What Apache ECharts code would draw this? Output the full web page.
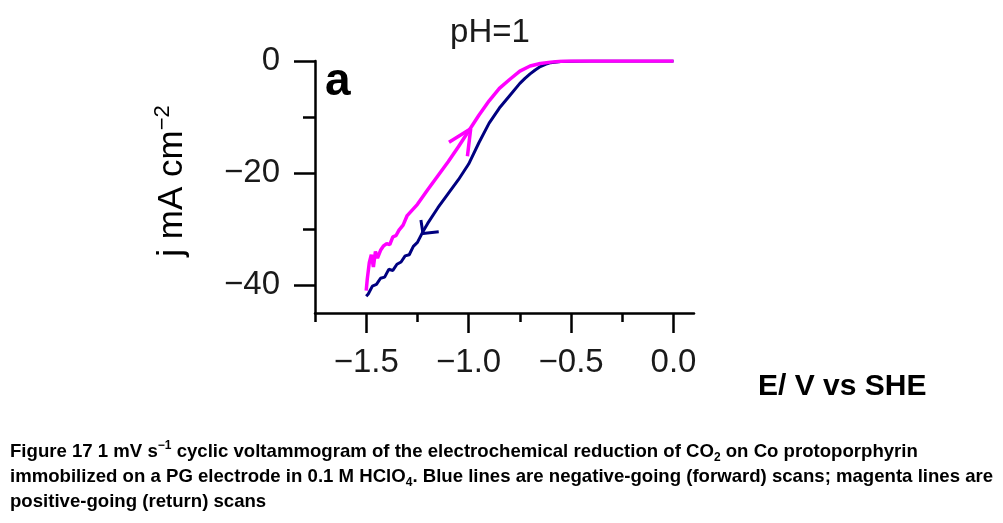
<!DOCTYPE html>
<html>
<head>
<meta charset="utf-8">
<title>Cyclic voltammogram pH=1</title>
<script src="https://cdn.jsdelivr.net/npm/echarts@6/dist/echarts.min.js"></script>
<style>
  html, body { margin: 0; padding: 0; background: #fff; }
  #chart { width: 1003px; height: 523px; }
</style>
</head>
<body>
<div id="chart"></div>
<script>
  // forward scan (blue), E in V vs SHE, j in mA cm-2
  var fwdE = [0.0, -0.1, -0.2, -0.3, -0.4, -0.5, -0.55, -0.6, -0.625, -0.65, -0.675, -0.7, -0.725, -0.75,
    -0.8, -0.85, -0.9, -0.95, -1.0, -1.05, -1.1, -1.15, -1.2, -1.225, -1.25, -1.27, -1.29, -1.31, -1.33,
    -1.35, -1.37, -1.39, -1.41, -1.43, -1.45, -1.47, -1.49, -1.5];
  var fwdJ = [0, 0, 0, 0, 0, -0.05, -0.1, -0.3, -0.6, -1.0, -1.6, -2.3, -3.1, -4.0,
    -6.2, -8.4, -11.1, -14.6, -18.4, -21.2, -23.7, -26.2, -29.0, -30.6, -32.4, -33.1, -34.6, -34.8, -35.9,
    -36.3, -37.4, -37.2, -38.6, -38.8, -39.9, -40.2, -41.6, -42.0];

  // return scan (magenta)
  var retE = [-1.5, -1.495, -1.485, -1.475, -1.465, -1.455, -1.445, -1.43, -1.415, -1.4, -1.385, -1.37,
    -1.355, -1.34, -1.32, -1.3, -1.25, -1.2, -1.15, -1.1, -1.05, -1.0, -0.95, -0.9, -0.85, -0.8, -0.75,
    -0.7, -0.65, -0.6, -0.55, -0.5, -0.3, 0.0];
  var retJ = [-41.0, -39.0, -36.0, -34.6, -36.8, -34.0, -35.2, -33.8, -33.0, -32.6, -32.8, -31.4,
    -31.2, -30.2, -29.3, -27.6, -25.6, -23.0, -20.5, -18.0, -15.3, -12.5, -9.7, -7.1, -4.9, -3.3, -1.8,
    -0.9, -0.45, -0.2, -0.05, 0, 0, 0];

  // scan direction arrows (barb, tip, barb)
  var fwdArrowE = [-1.233, -1.223, -1.146];
  var fwdArrowJ = [-28.4, -30.8, -30.5];
  var retArrowE = [-1.096, -0.99, -1.006];
  var retArrowJ = [-14.5, -12.1, -17.0];

  // ticks
  var xMajorTicks = [-1.5, -1.0, -0.5, 0.0];
  var xMinorTicks = [-1.75, -1.25, -0.75, -0.25];
  var yMajorTicks = [0, -20, -40];
  var yMinorTicks = [-10, -30];

  function pairs(xs, ys) {
    return xs.map(function (x, i) { return [x, ys[i]]; });
  }
  function fmt(v, d) {
    return (v < 0 ? '\u2212' : '') + Math.abs(v).toFixed(d);
  }

  var FONT = 'Liberation Sans, Arial, sans-serif';
  var INK = '#1a1a1a';
  var CAP = 18.6;
  var chart = echarts.init(document.getElementById('chart'));

  chart.setOption({
    animation: false,
    backgroundColor: '#fff',
    grid: { left: 315, top: 61, width: 379, height: 252, containLabel: false },
    xAxis: [
      {
        type: 'value', min: -1.75, max: 0.1, position: 'bottom',
        axisLine: { show: true, onZero: false, lineStyle: { color: '#000', width: 2.5 } },
        axisTick: { show: true, customValues: xMajorTicks, length: 20, lineStyle: { color: '#000', width: 2.5 } },
        axisLabel: {
          customValues: xMajorTicks, margin: 33, fontSize: 33, fontFamily: FONT, color: INK,
          formatter: function (v) { return fmt(v, 1); }
        },
        splitLine: { show: false }
      },
      {
        type: 'value', min: -1.75, max: 0.1, position: 'bottom',
        axisLine: { show: false, onZero: false },
        axisTick: { show: true, customValues: xMinorTicks, length: 9, lineStyle: { color: '#000', width: 2.5 } },
        axisLabel: { show: false },
        splitLine: { show: false }
      }
    ],
    yAxis: [
      {
        type: 'value', min: -45, max: 0, position: 'left',
        axisLine: { show: true, onZero: false, lineStyle: { color: '#000', width: 2.5 } },
        axisTick: { show: true, customValues: yMinorTicks, length: 12, lineStyle: { color: '#000', width: 2.5 } },
        axisLabel: { show: false },
        splitLine: { show: false }
      },
      {
        type: 'value', min: -45, max: 0, position: 'left',
        axisLine: { show: false, onZero: false },
        axisTick: { show: true, customValues: yMajorTicks, length: 21, lineStyle: { color: '#000', width: 2.5 } },
        axisLabel: {
          customValues: yMajorTicks, margin: 35, fontSize: 33, fontFamily: FONT, color: INK,
          formatter: function (v) { return fmt(v, 0); }
        },
        splitLine: { show: false }
      }
    ],
    graphic: [
      {
        type: 'text', position: [490, 33],
        style: { text: 'pH=1', fontSize: 33, fontFamily: FONT, fill: INK,
          textAlign: 'center', textVerticalAlign: 'middle' }
      },
      {
        type: 'text', position: [325, 82],
        style: { text: 'a', fontSize: 46, fontWeight: 'bold', fontFamily: FONT, fill: '#000',
          textAlign: 'left', textVerticalAlign: 'middle' }
      },
      {
        type: 'text', position: [758, 387],
        style: { text: 'E/ V vs SHE', fontSize: 30, fontWeight: 'bold', fontFamily: FONT, fill: '#000',
          textAlign: 'left', textVerticalAlign: 'middle' }
      },
      {
        type: 'text', position: [172, 181], rotation: Math.PI / 2,
        style: {
          text: '{t|j mA cm}{s|\u22122}', textAlign: 'center', textVerticalAlign: 'middle',
          rich: {
            t: { fontSize: 35, fontFamily: FONT, color: INK, lineHeight: 40 },
            s: { fontSize: 22, fontFamily: FONT, color: INK, verticalAlign: 'top', lineHeight: 26 }
          }
        }
      },
      {
        type: 'text', position: [10, 452],
        style: {
          text: '{b|Figure 17 1 mV s}{p|\u22121}{b| cyclic voltammogram of the electrochemical reduction of CO}{d|2}{b| on Co protoporphyrin}',
          textAlign: 'left', textVerticalAlign: 'middle',
          rich: {
            b: { fontSize: CAP, fontWeight: 'bold', fontFamily: FONT, color: '#000', lineHeight: 24 },
            p: { fontSize: 12, fontWeight: 'bold', fontFamily: FONT, color: '#000', verticalAlign: 'top', lineHeight: 14 },
            d: { fontSize: 12, fontWeight: 'bold', fontFamily: FONT, color: '#000', verticalAlign: 'bottom', lineHeight: 14 }
          }
        }
      },
      {
        type: 'text', position: [10, 477],
        style: {
          text: '{b|immobilized on a PG electrode in 0.1 M HClO}{d|4}{b|. Blue lines are negative-going (forward) scans; magenta lines are}',
          textAlign: 'left', textVerticalAlign: 'middle',
          rich: {
            b: { fontSize: CAP, fontWeight: 'bold', fontFamily: FONT, color: '#000', lineHeight: 24 },
            d: { fontSize: 12, fontWeight: 'bold', fontFamily: FONT, color: '#000', verticalAlign: 'bottom', lineHeight: 14 }
          }
        }
      },
      {
        type: 'text', position: [10, 502],
        style: { text: 'positive-going (return) scans', fontSize: CAP, fontWeight: 'bold', fontFamily: FONT,
          fill: '#000', textAlign: 'left', textVerticalAlign: 'middle' }
      }
    ],
    series: [
      {
        name: 'forward', type: 'line', xAxisIndex: 0, yAxisIndex: 0, showSymbol: false, z: 2,
        lineStyle: { color: '#000080', width: 3 }, data: pairs(fwdE, fwdJ)
      },
      {
        name: 'forward arrow', type: 'line', xAxisIndex: 0, yAxisIndex: 0, showSymbol: false, z: 2,
        lineStyle: { color: '#000080', width: 3 }, data: pairs(fwdArrowE, fwdArrowJ)
      },
      {
        name: 'return', type: 'line', xAxisIndex: 0, yAxisIndex: 0, showSymbol: false, z: 3,
        lineStyle: { color: '#ff00ff', width: 3.5 }, data: pairs(retE, retJ)
      },
      {
        name: 'return arrow', type: 'line', xAxisIndex: 0, yAxisIndex: 0, showSymbol: false, z: 3,
        lineStyle: { color: '#ff00ff', width: 3.5 }, data: pairs(retArrowE, retArrowJ)
      }
    ]
  });
</script>
</body>
</html>
